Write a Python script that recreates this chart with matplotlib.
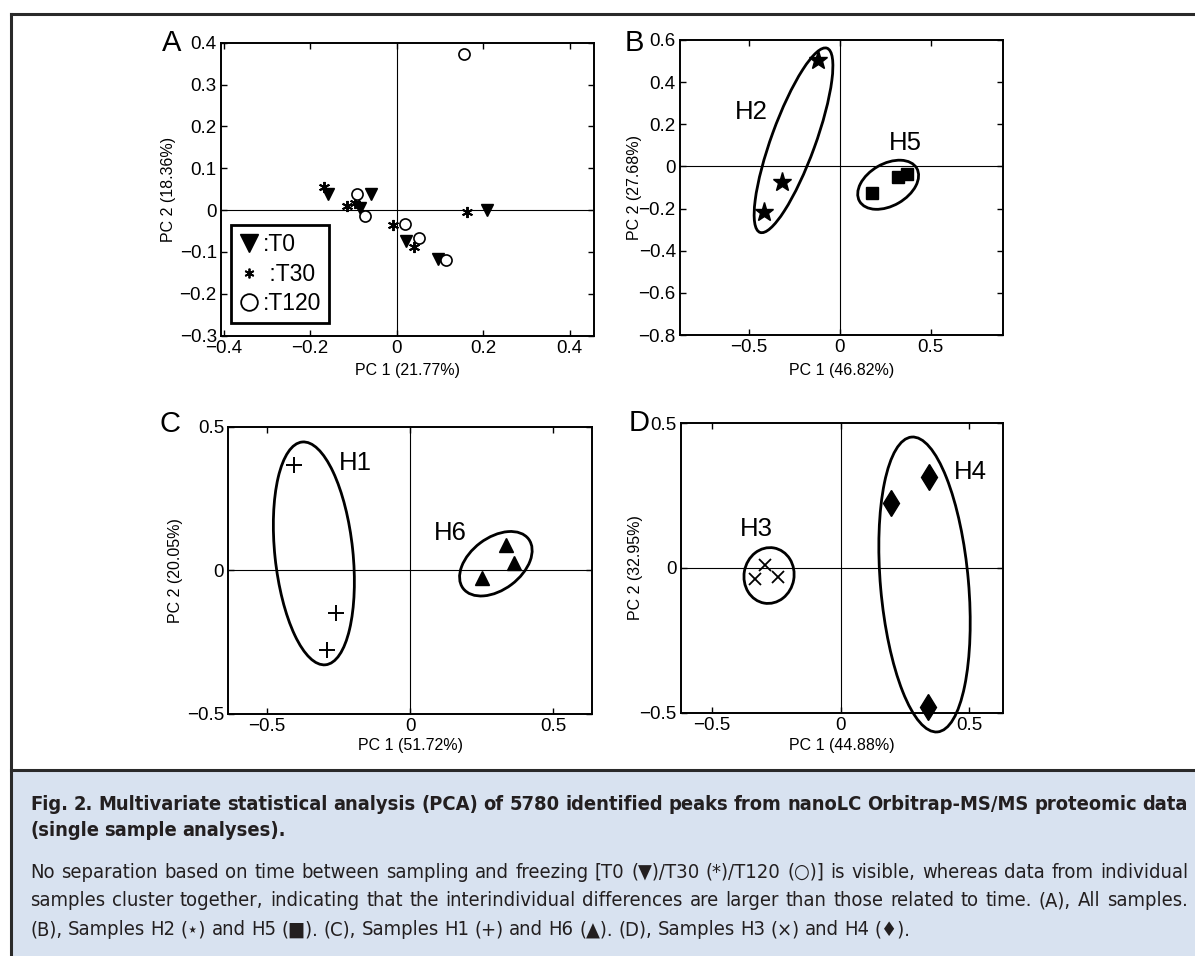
import matplotlib
matplotlib.use("Agg")
import matplotlib.pyplot as plt
from matplotlib.patches import Ellipse, Rectangle
from matplotlib.lines import Line2D
from matplotlib.transforms import ScaledTranslation
from matplotlib.ticker import FuncFormatter
from matplotlib import font_manager as fm

# ---------------- data ----------------
# Panel A : all samples, by time
a_t0_x = [-0.158, -0.059, -0.085, 0.021, 0.095, 0.208]
a_t0_y = [0.039, 0.038, 0.004, -0.073, -0.117, -0.001]
a_t30_x = [-0.168, -0.114, -0.096, -0.008, 0.041, 0.162]
a_t30_y = [0.054, 0.009, 0.017, -0.036, -0.089, -0.005]
a_t120_x = [0.155, -0.092, -0.074, 0.019, 0.051, 0.114]
a_t120_y = [0.372, 0.039, -0.014, -0.033, -0.067, -0.120]
a_legend_labels = [":T0", " :T30", ":T120"]

# Panel B : H2 (stars) and H5 (squares)
b_h2_x = [-0.119, -0.320, -0.416]
b_h2_y = [0.504, -0.074, -0.216]
b_h5_x = [0.176, 0.320, 0.370]
b_h5_y = [-0.126, -0.050, -0.035]

# Panel C : H1 (plus) and H6 (triangles)
c_h1_x = [-0.405, -0.258, -0.290]
c_h1_y = [0.366, -0.147, -0.277]
c_h6_x = [0.250, 0.337, 0.363]
c_h6_y = [-0.026, 0.089, 0.026]

# Panel D : H3 (crosses) and H4 (diamonds)
d_h3_x = [-0.332, -0.294, -0.245]
d_h3_y = [-0.037, 0.012, -0.030]
d_h4_x = [0.195, 0.344, 0.338]
d_h4_y = [0.225, 0.314, -0.480]

# cluster ellipses: name, centre (data), semi-axes (px), angle (deg), label pos (data)
clusters_b = [("H2", (-0.255, 0.124), 98, 22, 70, (-0.49, 0.26)),
              ("H5", (0.266, -0.087), 33, 21, 30, (0.362, 0.110))]
clusters_c = [("H1", (-0.336, 0.059), 112, 39, 96, (-0.192, 0.372)),
              ("H6", (0.300, 0.023), 41, 26, 37, (0.140, 0.131))]
clusters_d = [("H3", (-0.278, -0.026), 28, 25, 80, (-0.329, 0.136)),
              ("H4", (0.326, -0.057), 148, 44, 95, (0.505, 0.331))]

axis_labels = {
    "A": ("PC 1 (21.77%)", "PC 2 (18.36%)"),
    "B": ("PC 1 (46.82%)", "PC 2 (27.68%)"),
    "C": ("PC 1 (51.72%)", "PC 2 (20.05%)"),
    "D": ("PC 1 (44.88%)", "PC 2 (32.95%)"),
}

caption_bold = ["Fig.\u00A02.\u00A0\u00A0Multivariate statistical analysis (PCA) of 5780 identified peaks from nanoLC Orbitrap-MS/MS proteomic data",
                "(single sample analyses)."]
caption_text = ["No separation based on time between sampling and freezing [T0 (\u25BC)/T30 (*)/T120 (\u25CB)] is visible, whereas data from individual",
                "samples cluster together, indicating that the interindividual differences are larger than those related to time. (A), All samples.",
                "(B), Samples H2 (\u22C6) and H5 (\u25A0). (C), Samples H1 (+) and H6 (\u25B2). (D), Samples H3 (\u00D7) and H4 (\u2666)."]

# ---------------- figure ----------------
W, H = 1195, 956
DPI = 100
fig = plt.figure(figsize=(W / DPI, H / DPI), dpi=DPI)
fig.patch.set_facecolor("white")

CF = ["Liberation Sans", "DejaVu Sans"]


def px_rect(l, t, r, b):
    return [l / W, 1 - b / H, (r - l) / W, (b - t) / H]


fmt = FuncFormatter(lambda v, p: ("%g" % (round(v, 3) + 0.0)).replace("-", "\u2212"))


def setup(ax, xlim, ylim, xticks, yticks, key, xlab_y, ylab_x):
    ax.set_xlim(xlim)
    ax.set_ylim(ylim)
    ax.set_xticks(xticks)
    ax.set_yticks(yticks)
    ax.xaxis.set_major_formatter(fmt)
    ax.yaxis.set_major_formatter(fmt)
    ax.tick_params(direction="in", top=True, right=True, length=4, width=1.0,
                   labelsize=13.5, pad=3)
    for lab in ax.get_xticklabels() + ax.get_yticklabels():
        lab.set_family(CF)
    for s in ax.spines.values():
        s.set_linewidth(1.4)
    ax.axhline(0, color="k", lw=0.8, zorder=1)
    ax.axvline(0, color="k", lw=0.8, zorder=1)
    xl, yl = axis_labels[key]
    ax.set_xlabel(xl, fontsize=11.5, family=CF)
    ax.xaxis.set_label_coords(0.5, xlab_y)
    ax.xaxis.label.set_va("top")
    ax.set_ylabel(yl, fontsize=11.5, family=CF)
    ax.yaxis.set_label_coords(ylab_x, 0.5)


def draw_clusters(ax, clusters):
    for name, (cx, cy), a, b, ang, (lx, ly) in clusters:
        tr = fig.dpi_scale_trans + ScaledTranslation(cx, cy, ax.transData)
        e = Ellipse((0, 0), 2 * a / DPI, 2 * b / DPI, angle=ang, transform=tr,
                    fill=False, ec="k", lw=2.0, zorder=3, clip_on=False)
        ax.add_patch(e)
        ax.text(lx, ly, name, fontsize=18.5, family=CF, ha="center", va="center", zorder=4)


# Panel A
axA = fig.add_axes(px_rect(221, 42.7, 594, 335.5))
setup(axA, (-0.406, 0.456), (-0.3, 0.4), [-0.4, -0.2, 0, 0.2, 0.4],
      [-0.3, -0.2, -0.1, 0, 0.1, 0.2, 0.3, 0.4], "A", -0.094, -0.12)
axA.plot(a_t0_x, a_t0_y, ls="none", marker="v", ms=9, color="k", zorder=5)
axA.plot(a_t30_x, a_t30_y, ls="none", marker=(6, 2, 0), ms=8, mew=1.4, color="k", zorder=5)
axA.plot(a_t120_x, a_t120_y, ls="none", marker="o", ms=8, mfc="white", mec="k", mew=1.2, zorder=6)
h0 = Line2D([], [], ls="none", marker="v", ms=13, color="k")
h1 = Line2D([], [], ls="none", marker=(6, 2, 0), ms=7, mew=1.3, color="k")
h2 = Line2D([], [], ls="none", marker="o", ms=12, mfc="white", mec="k", mew=1.3)
leg = axA.legend([h0, h1, h2], a_legend_labels, loc="upper left",
                 bbox_to_anchor=(0.026, 0.377), frameon=True, fancybox=False,
                 prop={"family": CF, "size": 16.5}, handlelength=0.9,
                 handletextpad=0.15, labelspacing=0.28, borderpad=0.35,
                 borderaxespad=0.0, framealpha=1)
leg.get_frame().set_edgecolor("k")
leg.get_frame().set_linewidth(2.0)

# Panel B
axB = fig.add_axes(px_rect(680, 40, 1003.3, 335))
setup(axB, (-0.88, 0.9), (-0.8, 0.6), [-0.5, 0, 0.5],
      [-0.8, -0.6, -0.4, -0.2, 0, 0.2, 0.4, 0.6], "B", -0.096, -0.118)
axB.plot(b_h2_x, b_h2_y, ls="none", marker="*", ms=14, color="k", zorder=5)
axB.plot(b_h5_x, b_h5_y, ls="none", marker="s", ms=9, color="k", zorder=5)
draw_clusters(axB, clusters_b)

# Panel C
axC = fig.add_axes(px_rect(228.3, 426.7, 592.3, 714))
setup(axC, (-0.635, 0.637), (-0.5, 0.5), [-0.5, 0, 0.5], [-0.5, 0, 0.5],
      "C", -0.085, -0.124)
axC.plot(c_h1_x, c_h1_y, ls="none", marker="+", ms=12, mew=1.4, color="k", zorder=5)
axC.plot(c_h6_x, c_h6_y, ls="none", marker="^", ms=10.5, color="k", zorder=5)
draw_clusters(axC, clusters_c)

# Panel D
axD = fig.add_axes(px_rect(681, 423.3, 1003.3, 712.7))
setup(axD, (-0.62, 0.632), (-0.5, 0.5), [-0.5, 0, 0.5], [-0.5, 0, 0.5],
      "D", -0.089, -0.117)
axD.plot(d_h3_x, d_h3_y, ls="none", marker="x", ms=8, mew=1.3, color="k", zorder=5)
axD.plot(d_h4_x, d_h4_y, ls="none", marker="d", ms=13, color="k", zorder=5, clip_on=False)
draw_clusters(axD, clusters_d)

# panel letters
for letter, (px, py) in zip("ABCD", [(171.7, 43), (634, 43.3), (170, 424), (638.7, 423.3)]):
    fig.text(px / W, 1 - py / H, letter, fontsize=21, family=CF, ha="center", va="center")

# ---------------- caption box and frame ----------------
fig.add_artist(Rectangle((11.5 / W, 0), 1, (H - 769.5) / H, transform=fig.transFigure,
                         facecolor="#d8e2f0", edgecolor="none", zorder=0))
frame_c = "#2a2a2a"
fig.add_artist(Line2D([10.7 / W, 1], [1 - 13.7 / H, 1 - 13.7 / H], transform=fig.transFigure,
                      color=frame_c, lw=2.2, solid_capstyle="projecting"))
fig.add_artist(Line2D([10.7 / W, 10.7 / W], [0, 1 - 13.7 / H], transform=fig.transFigure,
                      color=frame_c, lw=2.2, solid_capstyle="projecting"))
fig.add_artist(Line2D([10.7 / W, 1], [1 - 769.5 / H, 1 - 769.5 / H], transform=fig.transFigure,
                      color=frame_c, lw=2.2))

# caption font: prefer a condensed sans
cap_family, cap_stretch = "DejaVu Sans", "normal"
for f in fm.fontManager.ttflist:
    if f.name == "DejaVu Sans" and str(f.stretch) in ("condensed", "semi-condensed"):
        cap_family, cap_stretch = "DejaVu Sans", "condensed"
        break
else:
    names = {f.name for f in fm.fontManager.ttflist}
    for cand in ["Liberation Sans Narrow", "Roboto Condensed", "Open Sans Condensed", "Open Sans"]:
        if cand in names:
            cap_family = cand
            break
CAPF = [cap_family, "DejaVu Sans"]
renderer = fig.canvas.get_renderer()
X0, X1 = 30, 1188
TXT_C = "#231f20"


def make_words(words, size, weight):
    objs = []
    for w in words:
        t = fig.text(0, 0, w, fontsize=size, family=CAPF, fontstretch=cap_stretch,
                     fontweight=weight, color=TXT_C, ha="left", va="baseline")
        objs.append(t)
    return objs


def widths(objs):
    return [o.get_window_extent(renderer).width for o in objs]


def fit_size(lines, size, weight):
    for line in lines:
        words = line.split()
        objs = make_words(words, size, weight)
        ws = widths(objs)
        for o in objs:
            o.remove()
        total = sum(ws) + 0.27 * size * DPI / 72 * (len(words) - 1)
        if total > (X1 - X0):
            size = size * (X1 - X0) / total
    return size


def place_line(line, ybase, size, weight, justify):
    words = line.split()
    objs = make_words(words, size, weight)
    ws = widths(objs)
    if justify and len(words) > 1:
        gap = ((X1 - X0) - sum(ws)) / (len(words) - 1)
    else:
        gap = 0.27 * size * DPI / 72
    x = X0
    for o, w in zip(objs, ws):
        o.set_position((x / W, 1 - ybase / H))
        x += w + gap


bsize = fit_size([caption_bold[0]], 15.5, "bold")
rsize = fit_size(caption_text[:2], 14.5, "normal")
place_line(caption_bold[0], 810, bsize, "bold", True)
place_line(caption_bold[1], 836, bsize, "bold", False)
place_line(caption_text[0], 878, rsize, "normal", True)
place_line(caption_text[1], 906.5, rsize, "normal", True)
place_line(caption_text[2], 935, rsize, "normal", False)

fig.savefig("out.png", dpi=DPI)
